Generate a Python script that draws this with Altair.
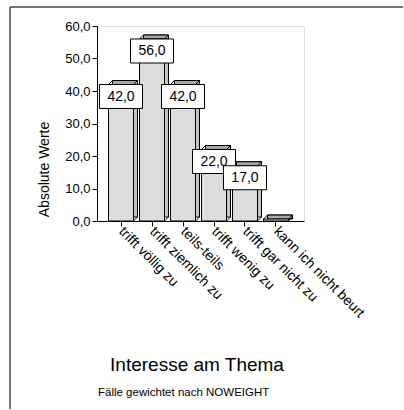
import altair as alt
import pandas as pd

categories = ["trifft völlig zu", "trifft ziemlich zu", "teils-teils",
              "trifft wenig zu", "trifft gar nicht zu", "kann ich nicht beurt"]
values = [42.0, 56.0, 42.0, 22.0, 17.0, 0.6]
y_ticks = [0, 10, 20, 30, 40, 50, 60]

df = pd.DataFrame({"cat": categories, "val": values})
df["label"] = [f"{v:.1f}".replace(".", ",") for v in values]

FONT = "Liberation Sans"
W, H = 207, 195
BW = 25      # front face width
D = 4        # 3D depth

xs = alt.Scale(domain=categories, paddingInner=0, paddingOuter=0.339, align=0.405)
ys = alt.Scale(domain=[0, 60], nice=False, zero=True)

x_enc = alt.X("cat:N", scale=xs, sort=categories,
              axis=alt.Axis(title=None, labelAngle=45, labelAlign="left",
                            labelBaseline="middle", labelPadding=3,
                            labelFontSize=14, labelFont=FONT, labelColor="black",
                            tickSize=5, tickColor="black", domainColor="black",
                            labelLimit=300))
y_axis = alt.Axis(title="Absolute Werte", values=y_ticks, tickCount=7,
                  labelOverlap=False,
                  labelExpr="replace(format(datum.value, '.1f'), '.', ',')",
                  labelFontSize=13, labelFont=FONT, labelColor="black",
                  labelPadding=2, tickSize=5, tickColor="black",
                  domainColor="black", grid=False,
                  titleFont=FONT, titleFontSize=14, titleFontWeight="normal",
                  titleColor="black", titleX=-53, titleY=143,
                  titleAlign="center", titleBaseline="middle", titleAngle=-90)
y_enc = alt.Y("val:Q", scale=ys, axis=y_axis)

base = alt.Chart(df).encode(x=x_enc, y=y_enc)

side = base.mark_bar(width=BW, xOffset=D, yOffset=-D, y2Offset=-D,
                     fill="#c4c4c4", stroke="black", strokeWidth=1).encode(
    y2=alt.datum(0))
top = base.mark_bar(width=BW, xOffset=D, yOffset=-D, y2Offset=0,
                    fill="#a6a6a6", stroke="black", strokeWidth=1).encode(
    y2="val:Q")
front = base.mark_bar(width=BW, fill="#dcdcdc", stroke="black", strokeWidth=1).encode(
    y2=alt.datum(0))
diag_tl = base.mark_rule(color="black", strokeWidth=1,
                         xOffset=-BW / 2, x2Offset=-BW / 2 + D, yOffset=0, y2Offset=-D).encode(
    x2="cat:N", y2="val:Q")
diag_tr = base.mark_rule(color="black", strokeWidth=1,
                         xOffset=BW / 2, x2Offset=BW / 2 + D, yOffset=0, y2Offset=-D).encode(
    x2="cat:N", y2="val:Q")
diag_br = base.mark_rule(color="black", strokeWidth=1,
                         xOffset=BW / 2, x2Offset=BW / 2 + D, yOffset=0, y2Offset=-D).encode(
    x2="cat:N", y=alt.datum(0), y2=alt.datum(0))

lab = base.transform_filter("datum.val >= 1")
boxes = lab.mark_bar(width=43, yOffset=0, y2Offset=24, fill="white",
                     stroke="black", strokeWidth=1).encode(
    y2="val:Q")
texts = lab.mark_text(font=FONT, fontSize=14, color="black", dy=12,
                      baseline="middle", align="center").encode(
    text="label:N")

one = alt.Data(values=[{"t": 1}])
frame_top = alt.Chart(one).mark_rule(color="#444444", strokeWidth=1.5).encode(
    x=alt.value(-87), x2=alt.value(306), y=alt.value(-19))
frame_left = alt.Chart(one).mark_rule(color="#444444", strokeWidth=1.5).encode(
    x=alt.value(-87), y=alt.value(-19), y2=alt.value(383))
title = alt.Chart(one).mark_text(font=FONT, fontSize=19, color="black",
                                 align="center", baseline="alphabetic").encode(
    x=alt.value(100), y=alt.value(345), text=alt.value("Interesse am Thema"))
note = alt.Chart(one).mark_text(font=FONT, fontSize=11.5, color="black",
                                align="left", baseline="alphabetic").encode(
    x=alt.value(1), y=alt.value(370), text=alt.value("Fälle gewichtet nach NOWEIGHT"))

chart = alt.layer(side, top, front, diag_tl, diag_tr, diag_br, boxes, texts,
                  frame_top, frame_left, title, note).properties(
    width=W, height=H,
    padding={"left": 9, "top": 6, "right": 0, "bottom": 0},
).configure_view(strokeWidth=0).configure(background="white")

chart.save("out.html", embed_options={"renderer": "svg", "actions": False})
